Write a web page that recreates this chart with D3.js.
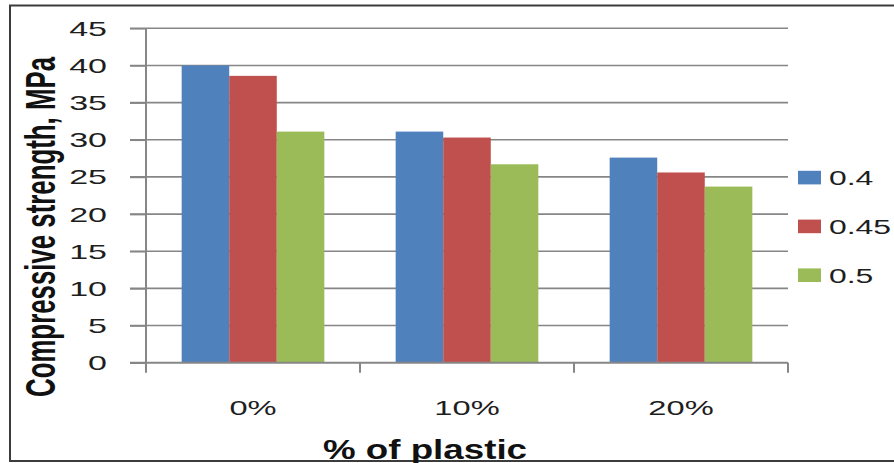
<!DOCTYPE html>
<html>
<head>
<meta charset="utf-8">
<script src="https://cdn.jsdelivr.net/npm/d3@7"></script>
<style>
  html, body { margin: 0; padding: 0; background: #fff; }
  svg { display: block; font-family: "Liberation Sans", Arial, sans-serif; }
</style>
</head>
<body>
<svg id="chart" width="894" height="463"></svg>
<script>
// Compressive strength by plastic content, one series per water/cement ratio
const categories = ["0%", "10%", "20%"];
const seriesNames = ["0.4", "0.45", "0.5"];
const values04 = [40, 31.1, 27.6];
const values045 = [38.6, 30.3, 25.6];
const values05 = [31.1, 26.7, 23.7];
const yTicks = [0, 5, 10, 15, 20, 25, 30, 35, 40, 45];
const colors = ["#4F81BD", "#C0504D", "#9BBB59"];

const seriesValues = [values04, values045, values05];
const rows = categories.map((c, i) => ({
  cat: c,
  vals: seriesNames.map((s, j) => ({ key: s, value: seriesValues[j][i], color: colors[j] }))
}));

const svg = d3.select("#chart");
const W = 894, H = 463;
const plot = { left: 146, right: 788, top: 28.3, bottom: 362.7 };
const SX = 1.62;          // wide glyph proportions of the chart font
const textColor = "#1e1e1e";
const gridColor = "#868686";

svg.append("rect").attr("width", W).attr("height", H).attr("fill", "#fff");

// chart area frame
svg.append("rect")
  .attr("x", 10).attr("y", 5.5)
  .attr("width", W + 20).attr("height", 455.5)
  .attr("fill", "none").attr("stroke", "#3c3c3c").attr("stroke-width", 2);

const y = d3.scaleLinear().domain([0, 45]).range([plot.bottom, plot.top]);
const x0 = d3.scaleBand().domain(categories).range([plot.left, plot.right]).padding(0);
const x1 = d3.scaleBand().domain(seriesNames).range([0, x0.bandwidth()])
  .paddingInner(0).paddingOuter(0.75);

// horizontal gridlines with outside tick marks
svg.append("g").selectAll("line").data(yTicks.filter(t => t > 0)).join("line")
  .attr("x1", plot.left - 16).attr("x2", plot.right)
  .attr("y1", d => y(d)).attr("y2", d => y(d))
  .attr("stroke", gridColor).attr("stroke-width", 1.6);

// bars
const groups = svg.append("g").selectAll("g").data(rows).join("g")
  .attr("transform", d => `translate(${x0(d.cat)},0)`);
groups.selectAll("rect").data(d => d.vals).join("rect")
  .attr("x", d => x1(d.key))
  .attr("width", x1.bandwidth())
  .attr("y", d => y(d.value))
  .attr("height", d => y(0) - y(d.value))
  .attr("fill", d => d.color);

// value axis
const yAxis = d3.axisLeft(y).tickValues(yTicks).tickSize(16).tickFormat("");
const gy = svg.append("g").attr("transform", `translate(${plot.left},0)`).call(yAxis);
gy.select(".domain").remove();
gy.selectAll(".tick line").attr("stroke", gridColor).attr("stroke-width", 1.6);
svg.append("line")
  .attr("x1", plot.left).attr("x2", plot.left)
  .attr("y1", plot.top).attr("y2", plot.bottom + 10)
  .attr("stroke", gridColor).attr("stroke-width", 2);

svg.append("g").selectAll("text").data(yTicks).join("text")
  .attr("transform", d => `translate(107,${y(d)}) scale(${SX},1)`)
  .attr("text-anchor", "end").attr("dy", "0.36em")
  .attr("font-size", 21).attr("fill", textColor)
  .text(d => d);

// category axis
svg.append("line")
  .attr("x1", plot.left - 16).attr("x2", plot.right)
  .attr("y1", plot.bottom).attr("y2", plot.bottom)
  .attr("stroke", gridColor).attr("stroke-width", 2);
const catBounds = categories.map(c => x0(c) + x0.bandwidth());
svg.append("g").selectAll("line").data(catBounds).join("line")
  .attr("x1", d => d).attr("x2", d => d)
  .attr("y1", plot.bottom).attr("y2", plot.bottom + 10)
  .attr("stroke", gridColor).attr("stroke-width", 2);

svg.append("g").selectAll("text").data(categories).join("text")
  .attr("transform", d => `translate(${x0(d) + x0.bandwidth() / 2},415) scale(${SX * 0.96},1)`)
  .attr("text-anchor", "middle")
  .attr("font-size", 21).attr("fill", textColor)
  .text(d => d);

// axis titles
svg.append("text")
  .attr("x", 323).attr("y", 458.5)
  .attr("font-size", 27).attr("font-weight", "bold").attr("fill", "#111")
  .attr("textLength", 204).attr("lengthAdjust", "spacingAndGlyphs")
  .text("% of plastic");

svg.append("text")
  .attr("transform", `translate(55,397) rotate(-90) scale(1,${SX})`)
  .attr("font-size", 25.8).attr("font-weight", "bold").attr("fill", "#111")
  .attr("textLength", 340).attr("lengthAdjust", "spacingAndGlyphs")
  .text("Compressive strength, MPa");

// legend
const legend = svg.append("g").selectAll("g").data(seriesNames).join("g")
  .attr("transform", (d, i) => `translate(798,${177.6 + i * 48.8})`);
legend.append("rect")
  .attr("x", 0).attr("y", -6.8).attr("width", 23).attr("height", 13.6)
  .attr("fill", (d, i) => colors[i]);
legend.append("text")
  .attr("transform", `translate(31,0) scale(1.52,1)`)
  .attr("dy", "0.36em")
  .attr("font-size", 21).attr("fill", textColor)
  .text(d => d);
</script>
</body>
</html>
